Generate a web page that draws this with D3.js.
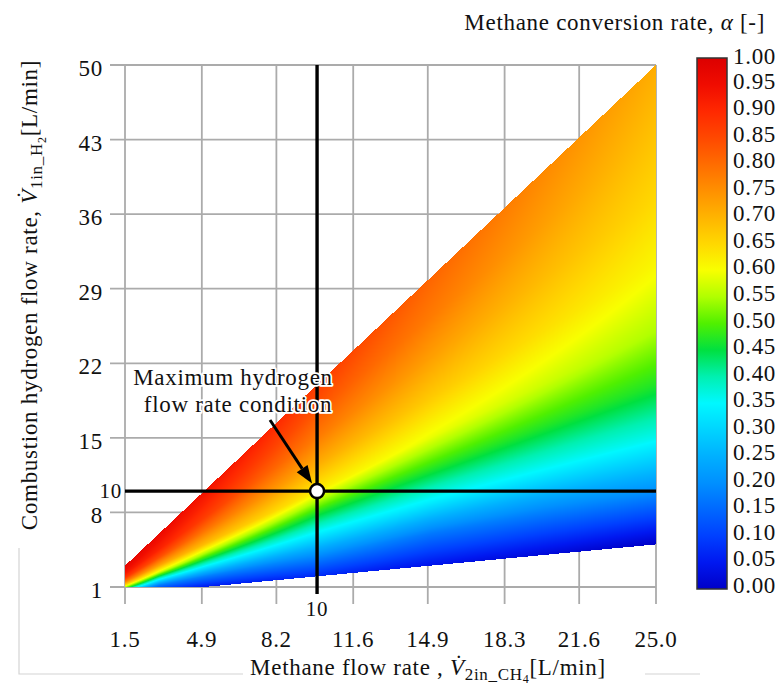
<!DOCTYPE html>
<html>
<head>
<meta charset="utf-8">
<script src="https://cdn.jsdelivr.net/npm/d3@7"></script>
<style>
  body { margin: 0; background: #fff; }
  svg text { font-family: "Liberation Serif", "Times New Roman", serif; fill: #111; letter-spacing: 0.7px; }
</style>
</head>
<body>
<svg id="chart" width="779" height="688"></svg>
<script>
// ---- data -------------------------------------------------------------
// Methane flow rate columns of the conversion table [L/min]
const methaneFlow = [1.5, 3, 5, 7.5, 10, 15, 20, 25];
// Hydrogen / methane flow ratio rows of the table (also the wedge limits)
const flowRatio = [0.2, 0.4, 0.6, 0.8, 1.0, 1.25, 1.5, 1.75, 2.0];
// Methane conversion rate alpha, one array per ratio row, one value per methane flow column
const alphaR020 = [0.10, 0.06, 0.05, 0.06, 0.07, 0.04, 0.02, 0.00];
const alphaR040 = [0.30, 0.18, 0.18, 0.19, 0.20, 0.17, 0.18, 0.20];
const alphaR060 = [0.50, 0.38, 0.36, 0.35, 0.34, 0.34, 0.35, 0.36];
const alphaR080 = [0.66, 0.58, 0.53, 0.50, 0.47, 0.47, 0.47, 0.47];
const alphaR100 = [0.78, 0.72, 0.69, 0.66, 0.62, 0.59, 0.57, 0.55];
const alphaR125 = [0.88, 0.84, 0.79, 0.75, 0.71, 0.67, 0.64, 0.61];
const alphaR150 = [0.93, 0.91, 0.87, 0.82, 0.78, 0.73, 0.69, 0.65];
const alphaR175 = [0.96, 0.94, 0.91, 0.87, 0.83, 0.78, 0.73, 0.68];
const alphaR200 = [0.98, 0.96, 0.94, 0.91, 0.87, 0.81, 0.76, 0.71];
const alphaRows = [alphaR020, alphaR040, alphaR060, alphaR080, alphaR100,
                   alphaR125, alphaR150, alphaR175, alphaR200];

// Axis tick labels
const xTicks = [1.5, 4.9, 8.2, 11.6, 14.9, 18.3, 21.6, 25.0];
const yTicks = [1, 8, 15, 22, 29, 36, 43, 50];
const barTicks = [0, 0.05, 0.10, 0.15, 0.20, 0.25, 0.30, 0.35, 0.40, 0.45, 0.50,
                  0.55, 0.60, 0.65, 0.70, 0.75, 0.80, 0.85, 0.90, 0.95, 1.00];

// Maximum hydrogen flow rate operating point
const opMethane = 10;
const opHydrogen = 10;
const minHydrogen = 1;

// ---- scales -----------------------------------------------------------
const x = d3.scaleLinear().domain([1.5, 25]).range([125, 656]);
const y = d3.scaleLinear().domain([1, 50]).range([587, 65]);

const jetDomain = d3.range(0, 1.0001, 0.05);
const jetColors = ["#0000c8", "#0018f0", "#0040ff", "#0068ff", "#0090ff", "#00b0ff",
                   "#00d4ff", "#00f8ff", "#00f0b0", "#00e040", "#50f000", "#b0ff00",
                   "#f8ff00", "#ffd800", "#ffb400", "#ff9000", "#ff6c00", "#ff4800",
                   "#ff2800", "#f00c00", "#dc0000"];
const color = d3.scaleLinear().domain(jetDomain).range(jetColors).clamp(true);

const svg = d3.select("#chart");

// ---- grid -------------------------------------------------------------
const grid = svg.append("g").attr("stroke", "#ababab").attr("stroke-width", 1.8);
grid.selectAll("line.v").data(xTicks).join("line")
  .attr("x1", d => x(d)).attr("x2", d => x(d))
  .attr("y1", y(50)).attr("y2", y(1) + 17);
grid.selectAll("line.h").data(yTicks).join("line")
  .attr("x1", x(1.5) - 15).attr("x2", x(25))
  .attr("y1", d => y(d)).attr("y2", d => y(d));

// ---- conversion-rate field -------------------------------------------
function alphaAt(q, r) {
  const i = Math.max(0, Math.min(d3.bisectRight(methaneFlow, q) - 1, methaneFlow.length - 2));
  const j = Math.max(0, Math.min(d3.bisectRight(flowRatio, r) - 1, flowRatio.length - 2));
  const tx = (q - methaneFlow[i]) / (methaneFlow[i + 1] - methaneFlow[i]);
  const ty = (r - flowRatio[j]) / (flowRatio[j + 1] - flowRatio[j]);
  const a = alphaRows[j], b = alphaRows[j + 1];
  return a[i] * (1 - tx) * (1 - ty) + a[i + 1] * tx * (1 - ty) +
         b[i] * (1 - tx) * ty + b[i + 1] * tx * ty;
}

const x0 = x(1.5), y0 = y(50);
const W = Math.round(x(25) - x0), H = Math.round(y(1) - y0);
const canvas = document.createElement("canvas");
canvas.width = W; canvas.height = H;
const ctx = canvas.getContext("2d");
const img = ctx.createImageData(W, H);
const rLo = flowRatio[0], rHi = flowRatio[flowRatio.length - 1];
for (let j = 0; j < H; j++) {
  for (let i = 0; i < W; i++) {
    const q = x.invert(x0 + i + 0.5);
    const h = y.invert(y0 + j + 0.5);
    const r = h / q;
    if (h < minHydrogen || r < rLo || r > rHi) continue;
    const c = d3.rgb(color(alphaAt(q, r)));
    const k = (j * W + i) * 4;
    img.data[k] = c.r; img.data[k + 1] = c.g; img.data[k + 2] = c.b; img.data[k + 3] = 255;
  }
}
ctx.putImageData(img, 0, 0);
svg.append("image")
  .attr("x", x0).attr("y", y0).attr("width", W).attr("height", H)
  .attr("href", canvas.toDataURL());

// ---- axes labels ------------------------------------------------------
const fs = 23;
svg.append("g").selectAll("text").data(yTicks).join("text")
  .attr("x", 103).attr("y", d => y(d) + 11)
  .attr("text-anchor", "end").attr("font-size", fs)
  .text(d => d);
svg.append("g").selectAll("text").data(xTicks).join("text")
  .attr("x", d => x(d)).attr("y", 647)
  .attr("text-anchor", "middle").attr("font-size", fs)
  .text(d => d3.format(".1f")(d));

// ---- operating point cross-hair -------------------------------------
const cross = svg.append("g").attr("stroke", "#000").attr("stroke-width", 3.4);
cross.append("line").attr("x1", x(1.5)).attr("x2", x(25))
  .attr("y1", y(opHydrogen)).attr("y2", y(opHydrogen));
cross.append("line").attr("x1", x(opMethane)).attr("x2", x(opMethane))
  .attr("y1", y(50)).attr("y2", y(1) + 7);
svg.append("text").attr("x", x(1.5) - 3).attr("y", y(opHydrogen) + 7)
  .attr("text-anchor", "end").attr("font-size", 21).text(opHydrogen);
svg.append("text").attr("x", x(opMethane)).attr("y", 616)
  .attr("text-anchor", "middle").attr("font-size", 21).text(opMethane);

// annotation
const ax = 270, ay = 420;
const px = x(opMethane), py = y(opHydrogen);
const ang = Math.atan2(py - ay, px - ax);
const tipX = px - Math.cos(ang) * 9, tipY = py - Math.sin(ang) * 9;
const headL = 18, headW = 6.5;
const bx = tipX - Math.cos(ang) * headL, by = tipY - Math.sin(ang) * headL;
svg.append("line").attr("x1", ax).attr("y1", ay).attr("x2", bx).attr("y2", by)
  .attr("stroke", "#000").attr("stroke-width", 3);
svg.append("path")
  .attr("d", `M${tipX},${tipY}L${bx - Math.sin(ang) * headW},${by + Math.cos(ang) * headW}` +
             `L${bx + Math.sin(ang) * headW},${by - Math.cos(ang) * headW}Z`)
  .attr("fill", "#000");
svg.append("circle").attr("cx", px).attr("cy", py).attr("r", 7)
  .attr("fill", "#fff").attr("stroke", "#000").attr("stroke-width", 2.5);

const note = svg.append("g").attr("font-size", fs).attr("text-anchor", "middle")
  .attr("stroke", "#fff").attr("stroke-width", 3.5).attr("paint-order", "stroke")
  .attr("stroke-linejoin", "round");
note.append("text").attr("x", 233).attr("y", 385).text("Maximum hydrogen");
note.append("text").attr("x", 238).attr("y", 412).text("flow rate condition");

// ---- axis titles ------------------------------------------------------
const xt = svg.append("text").attr("x", 428).attr("y", 675)
  .attr("text-anchor", "middle").attr("font-size", fs);
xt.append("tspan").text("Methane flow rate , ");
xt.append("tspan").attr("font-style", "italic").text("V\u0307");
xt.append("tspan").attr("font-size", 17).attr("dy", 5).text("2in_CH");
xt.append("tspan").attr("font-size", 12).attr("dy", 3).text("4");
xt.append("tspan").attr("dy", -8).text("[L/min]");

const yt = svg.append("text").attr("transform", "translate(37,295) rotate(-90)")
  .attr("text-anchor", "middle").attr("font-size", fs);
yt.append("tspan").text("Combustion hydrogen flow rate, ");
yt.append("tspan").attr("font-style", "italic").text("V\u0307");
yt.append("tspan").attr("font-size", 17).attr("dy", 5).text("1in_H");
yt.append("tspan").attr("font-size", 12).attr("dy", 4).text("2");
yt.append("tspan").attr("dy", -9).text("[L/min]");

// ---- colour bar -------------------------------------------------------
const cb = d3.scaleLinear().domain([0, 1]).range([589, 58]);
const grad = svg.append("defs").append("linearGradient").attr("id", "jet")
  .attr("x1", 0).attr("y1", 1).attr("x2", 0).attr("y2", 0);
grad.selectAll("stop").data(jetDomain).join("stop")
  .attr("offset", d => d).attr("stop-color", d => color(d));
svg.append("rect").attr("x", 697).attr("y", cb(1)).attr("width", 30)
  .attr("height", cb(0) - cb(1)).attr("fill", "url(#jet)")
  .attr("stroke", "#333").attr("stroke-width", 1.5);
svg.append("g").selectAll("text").data(barTicks).join("text")
  .attr("x", 733).attr("y", d => d === 1 ? cb(d) + 6 : cb(d) + 4)
  .attr("font-size", fs).text(d => d3.format(".2f")(d));

const ct = svg.append("text").attr("x", 765).attr("y", 30)
  .attr("text-anchor", "end").attr("font-size", fs);
ct.append("tspan").text("Methane conversion rate, ");
ct.append("tspan").attr("font-style", "italic").text("\u03b1");
ct.append("tspan").text(" [-]");

// frame lines around the lower-left corner
const frame = svg.append("g").attr("stroke", "#d4d4d4").attr("stroke-width", 1.2).attr("fill", "none");
frame.append("path").attr("d", "M19,548V674H243");
frame.append("path").attr("d", "M645,674H700");
</script>
</body>
</html>
